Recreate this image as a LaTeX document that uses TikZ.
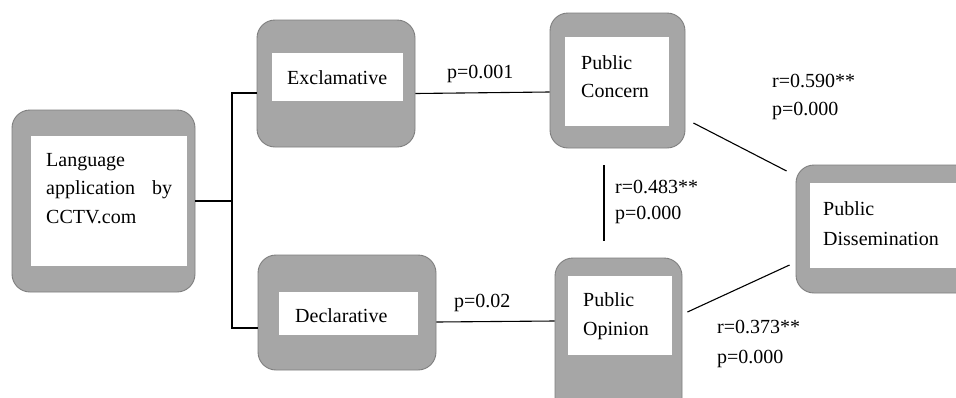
\documentclass[tikz,border=0pt]{standalone}
\usepackage{fontspec}
\setmainfont{Liberation Serif}
\usetikzlibrary{calc}
\definecolor{boxgray}{HTML}{A6A6A6}
\definecolor{boxedge}{HTML}{7F7F7F}
\tikzset{
  outerbox/.style={draw=boxedge, fill=boxgray, line width=0.9pt, rounded corners=18pt, inner sep=0pt},
  innerbox/.style={fill=white, inner sep=0pt},
  txt/.style={inner sep=0pt, anchor=base west, font=\fontsize{20}{29}\selectfont},
  conn/.style={draw=black, line width=1.1pt},
}
\begin{document}
\begin{tikzpicture}[x=1pt, y=-1pt]
\useasboundingbox (0,0) rectangle (956,397);
\clip (0,0) rectangle (956,397);
\fill[white] (0,0) rectangle (956,397);
% outer boxes
\node[outerbox, minimum width=183pt, minimum height=182pt] (lang) at (103.5,201) {};
\node[outerbox, minimum width=158pt, minimum height=127pt] (exc) at (336,83.5) {};
\node[outerbox, minimum width=135pt, minimum height=135pt] (con) at (617.5,80.5) {};
\node[outerbox, minimum width=200pt, minimum height=128pt] (dis) at (896,229) {};
\node[outerbox, minimum width=178pt, minimum height=115pt] (dec) at (347,312.5) {};
\node[outerbox, minimum width=127pt, minimum height=162pt] (opi) at (618.5,339) {};
% inner white panels
\node[innerbox, minimum width=156pt, minimum height=130pt] (langin) at (109,201) {};
\node[innerbox, minimum width=131pt, minimum height=48pt] (excin) at (337.5,77) {};
\node[innerbox, minimum width=104pt, minimum height=89pt] (conin) at (617,81.5) {};
\node[innerbox, minimum width=160pt, minimum height=85pt] (disin) at (890,225.5) {};
\node[innerbox, minimum width=139pt, minimum height=43pt] (decin) at (348.5,313.5) {};
\node[innerbox, minimum width=104pt, minimum height=79pt] (opiin) at (620,315.5) {};
% box texts
\node[txt] (langt) at (46,166) {\vtop{\baselineskip=28.5pt \hbox{Language}\hbox to 126pt{application\hfill by}\hbox{CCTV.com}}};
\node[txt] (exct) at (287,84) {Exclamative};
\node[txt] (cont) at (581,69) {\vtop{\baselineskip=28pt \hbox{Public}\hbox{Concern}}};
\node[txt] (dist) at (823,215) {\vtop{\baselineskip=30pt \hbox{Public}\hbox{Dissemination}}};
\node[txt] (dect) at (295,322) {Declarative};
\node[txt] (opit) at (583,306) {\vtop{\baselineskip=29pt \hbox{Public}\hbox{Opinion}}};
% connectors
\coordinate (brkT) at (232,93);
\coordinate (brkB) at (232,328);
\draw[conn] (lang.east) -- (lang.east -| brkT);
\draw[conn] (brkT -| exc.west) -- (brkT) -- (brkB) -- (brkB -| dec.west);
\draw[conn] ([yshift=-10pt]exc.east) -- ([yshift=-11.5pt]con.west);
\draw[conn] ([yshift=-9.5pt]dec.east) -- ([yshift=18pt]opi.west);
\draw[conn] ($(con.east)+(8,42.5)$) -- ($(dis.west)+(-9,-58)$);
\draw[conn] ($(opi.east)+(5,-27)$) -- ($(dis.west)+(-6,36)$);
\draw[conn] ($(con.south)+(-13.5,17)$) -- ($(opi.north)+(-14.5,-17)$);
% connector labels
\node[txt] (l1) at (447,78) {p=0.001};
\node[txt] (l2) at (454,307) {p=0.02};
\node[txt] (l3) at (772,87) {\vtop{\baselineskip=28pt \hbox{r=0.590**}\hbox{p=0.000}}};
\node[txt] (l4) at (615,193) {\vtop{\baselineskip=26pt \hbox{r=0.483**}\hbox{p=0.000}}};
\node[txt] (l5) at (717,333) {\vtop{\baselineskip=30pt \hbox{r=0.373**}\hbox{p=0.000}}};
\end{tikzpicture}
\end{document}
